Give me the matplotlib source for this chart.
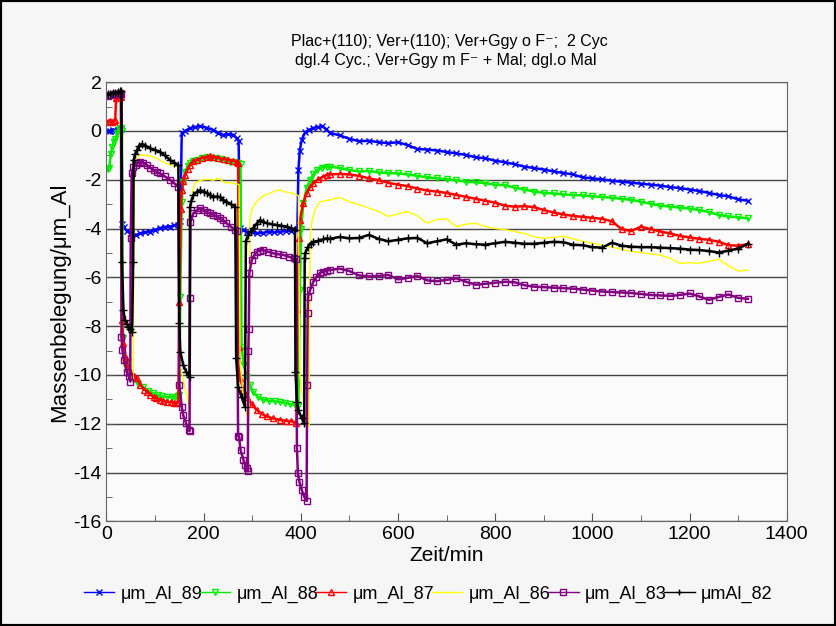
import numpy as np
import matplotlib.pyplot as plt
from matplotlib.patches import Rectangle
from matplotlib.ticker import MultipleLocator

# ---- data ----
# time grid for the slow drift after the last cycle (min)
t_tail = np.arange(460, 1321, 20)

# cycling part: (Zeit/min, Massenbelegung)
cyc_89 = [(3, 0.0), (8, -0.02), (13, 0.04), (18, 0.0), (23, 0.06), (28, 0.14), (31, 0.1),
          (33, -3.8), (36, -3.95), (42, -4.1), (50, -4.2), (60, -4.26), (70, -4.2), (80, -4.15),
          (90, -4.12), (100, -4.05), (110, -3.98), (120, -3.94), (130, -3.92), (140, -3.86),
          (148, -3.85), (152, -3.7), (155, -0.1), (162, 0.0), (172, 0.12), (182, 0.16),
          (193, 0.2), (205, 0.14), (220, 0.04), (230, -0.08), (240, -0.16), (250, -0.14),
          (261, -0.16), (268, -0.3), (272, -0.4), (275, -3.98), (282, -4.05), (290, -4.13),
          (300, -4.15), (310, -4.18), (322, -4.18), (335, -4.12), (345, -4.15), (357, -4.13),
          (370, -4.1), (380, -4.08), (390, -4.06), (393, -4.0), (395, -1.6), (398, -0.8),
          (402, -0.35), (409, -0.05), (417, 0.05), (425, 0.12), (435, 0.16), (443, 0.2),
          (452, 0.08)]
tail_89 = [-0.08, -0.18, -0.32, -0.42, -0.40, -0.46, -0.50, -0.46, -0.58, -0.74, -0.76,
           -0.80, -0.86, -0.92, -0.98, -1.08, -1.12, -1.22, -1.28, -1.36, -1.46, -1.52,
           -1.58, -1.66, -1.72, -1.78, -1.90, -1.94, -1.98, -2.04, -2.08, -2.12, -2.16,
           -2.20, -2.24, -2.30, -2.34, -2.40, -2.46, -2.54, -2.62, -2.68, -2.80, -2.86]

cyc_88 = [(3, -1.56), (6, -1.5), (9, -0.95), (12, -0.65), (15, -0.45), (18, -0.34), (22, -0.1),
          (26, 0.08), (30, 0.12), (32, 0.0), (34, -8.5), (38, -9.6), (44, -9.9), (50, -10.05),
          (55, -10.15), (65, -10.35), (76, -10.5), (86, -10.65), (96, -10.75), (106, -10.82),
          (115, -10.88), (124, -10.9), (135, -10.9), (142, -10.92), (147, -10.88), (150, -10.8),
          (152, -6.8), (155, -2.9), (158, -2.1), (162, -1.67), (167, -1.45), (172, -1.31),
          (179, -1.22), (186, -1.19), (196, -1.12), (206, -1.07), (215, -1.1), (225, -1.12),
          (234, -1.15), (244, -1.2), (254, -1.26), (263, -1.28), (271, -1.31), (276, -1.35),
          (278, -8.84), (283, -9.6), (289, -10.07), (295, -10.4), (302, -10.7), (312, -10.9),
          (323, -11.02), (335, -11.05), (346, -11.08), (357, -11.1), (368, -11.14),
          (378, -11.2), (388, -11.23), (395, -11.27), (398, -6.5), (401, -4.0), (405, -2.97),
          (412, -2.35), (419, -2.0), (426, -1.78), (433, -1.6), (443, -1.5), (453, -1.46)]
tail_88 = [-1.46, -1.52, -1.60, -1.66, -1.64, -1.70, -1.72, -1.74, -1.78, -1.84, -1.90,
           -1.94, -1.98, -2.02, -2.08, -2.10, -2.14, -2.20, -2.22, -2.32, -2.40, -2.48,
           -2.54, -2.56, -2.60, -2.62, -2.64, -2.68, -2.70, -2.74, -2.78, -2.82, -2.90,
           -2.98, -3.06, -3.10, -3.14, -3.18, -3.24, -3.32, -3.44, -3.50, -3.54, -3.58]

cyc_87 = [(3, 0.38), (7, 0.4), (11, 0.35), (15, 0.4), (18, 0.45), (20, 1.35), (24, 1.42),
          (28, 1.45), (30, 1.4), (32, -7.75), (35, -8.7), (40, -9.3), (44, -9.66), (50, -9.9),
          (56, -10.05), (62, -10.14), (70, -10.4), (78, -10.6), (83, -10.68), (90, -10.8),
          (97, -10.9), (103, -10.96), (110, -11.02), (117, -11.06), (124, -11.1),
          (132, -11.12), (139, -11.14), (145, -11.16), (148, -11.1), (150, -7.0), (153, -3.2),
          (155, -2.42), (158, -2.05), (162, -1.8), (167, -1.55), (172, -1.39), (179, -1.25),
          (186, -1.19), (196, -1.1), (206, -1.07), (213, -1.04), (220, -1.05), (230, -1.1),
          (241, -1.15), (251, -1.18), (261, -1.22), (268, -1.26), (271, -1.31), (273, -8.84),
          (275, -10.14), (282, -10.6), (289, -10.9), (299, -11.2), (309, -11.43), (320, -11.6),
          (330, -11.7), (343, -11.78), (357, -11.84), (370, -11.88), (380, -11.9),
          (391, -11.95), (393, -7.3), (396, -4.4), (398, -3.65), (405, -2.96), (412, -2.55),
          (419, -2.3), (426, -2.14), (436, -1.98), (446, -1.87), (453, -1.8)]
tail_87 = [-1.78, -1.76, -1.78, -1.84, -1.94, -2.02, -2.12, -2.20, -2.26, -2.36, -2.44,
           -2.48, -2.54, -2.62, -2.70, -2.78, -2.86, -2.94, -3.06, -3.10, -3.08, -3.12,
           -3.24, -3.34, -3.42, -3.48, -3.52, -3.56, -3.60, -3.70, -4.02, -4.10, -3.92,
           -4.02, -4.12, -4.20, -4.30, -4.36, -4.42, -4.46, -4.54, -4.68, -4.70, -4.64]

cyc_86 = [(3, 1.5), (10, 1.52), (20, 1.55), (29, 1.6), (30, -8.0), (34, -9.4), (40, -9.8),
          (48, -10.0), (55, -10.2), (57, -1.3), (60, -1.19), (65, -1.05), (69, -0.98),
          (80, -1.0), (90, -1.02), (100, -1.1), (110, -1.19), (120, -1.3), (131, -1.39),
          (140, -1.45), (148, -1.49), (150, -9.5), (155, -9.9), (160, -10.4), (166, -10.9),
          (171, -11.35), (173, -3.2), (175, -2.83), (178, -2.4), (182, -2.14), (190, -2.05),
          (199, -2.0), (210, -1.98), (220, -2.02), (228, -1.95), (234, -1.97), (240, -2.08),
          (247, -2.14), (255, -2.1), (262, -2.15), (268, -2.17), (273, -2.2), (275, -9.5),
          (280, -10.5), (285, -11.2), (290, -11.7), (293, -11.7), (295, -3.6), (299, -3.24),
          (306, -2.96), (316, -2.76), (326, -2.62), (337, -2.55), (347, -2.45), (357, -2.42),
          (368, -2.5), (378, -2.53), (386, -2.58), (391, -2.62), (395, -2.65), (398, -10.0),
          (403, -10.8), (408, -11.5), (412, -11.9), (415, -12.1), (417, -12.1), (419, -4.47),
          (422, -3.79), (429, -3.24), (439, -2.9), (450, -2.86)]
tail_86 = [-2.82, -2.72, -2.90, -3.02, -3.16, -3.30, -3.50, -3.40, -3.30, -3.48, -3.78,
           -3.62, -3.60, -3.92, -3.82, -3.78, -3.92, -4.00, -4.04, -4.12, -4.20, -4.34,
           -4.40, -4.36, -4.32, -4.42, -4.52, -4.60, -4.68, -4.76, -4.84, -4.94, -4.98,
           -5.04, -5.08, -5.22, -5.42, -5.40, -5.42, -5.34, -5.26, -5.52, -5.74, -5.70]

cyc_83 = [(3, 1.45), (8, 1.48), (13, 1.5), (18, 1.5), (23, 1.52), (28, 1.55), (30, 1.5),
          (31, -8.43), (33, -8.98), (36, -9.39), (42, -9.86), (46, -10.05), (49, -10.27),
          (50, -4.4), (52, -1.74), (55, -1.49), (60, -1.38), (65, -1.3), (69, -1.26),
          (76, -1.3), (83, -1.39), (90, -1.5), (97, -1.6), (104, -1.68), (110, -1.74),
          (120, -1.86), (131, -2.0), (140, -2.15), (148, -2.28), (150, -10.4), (155, -11.3),
          (158, -11.64), (164, -11.98), (169, -12.25), (171, -12.3), (172, -6.86),
          (173, -3.72), (179, -3.37), (186, -3.25), (193, -3.17), (200, -3.22), (206, -3.31),
          (213, -3.38), (220, -3.44), (227, -3.5), (234, -3.58), (240, -3.66), (247, -3.78),
          (256, -3.92), (265, -4.06), (268, -4.1), (271, -12.5), (273, -12.53), (276, -13.07),
          (282, -13.48), (286, -13.7), (289, -13.83), (291, -13.95), (292, -9.0), (293, -8.1),
          (294, -5.83), (299, -5.29), (304, -5.1), (309, -4.95), (316, -4.9), (323, -4.88),
          (333, -4.95), (343, -5.01), (353, -5.05), (364, -5.08), (375, -5.15), (385, -5.22),
          (391, -5.25), (392, -13.0), (394, -14.03), (397, -14.37), (402, -14.71),
          (407, -14.99), (412, -15.16), (413, -10.4), (414, -7.47), (415, -6.79),
          (419, -6.52), (426, -6.17), (432, -5.98), (439, -5.83), (446, -5.76), (453, -5.72)]
tail_83 = [-5.70, -5.64, -5.74, -5.92, -5.96, -5.94, -5.90, -6.08, -6.02, -5.94, -6.12,
           -6.16, -6.10, -6.04, -6.18, -6.30, -6.26, -6.22, -6.18, -6.20, -6.32, -6.38,
           -6.40, -6.42, -6.44, -6.46, -6.50, -6.54, -6.58, -6.60, -6.62, -6.64, -6.68,
           -6.72, -6.74, -6.76, -6.72, -6.66, -6.78, -6.92, -6.80, -6.70, -6.84, -6.88]

cyc_82 = [(3, 1.5), (8, 1.52), (13, 1.55), (18, 1.56), (23, 1.6), (28, 1.62), (31, 1.65),
          (32, -5.36), (35, -7.34), (38, -7.75), (42, -7.9), (45, -8.02), (49, -8.12),
          (53, -8.22), (55, -5.36), (56, -1.19), (59, -0.95), (63, -0.78), (67, -0.62),
          (73, -0.53), (80, -0.6), (90, -0.71), (100, -0.78), (110, -0.85), (120, -1.0),
          (131, -1.19), (140, -1.3), (148, -1.39), (150, -7.88), (152, -9.04), (158, -9.59),
          (164, -9.86), (171, -10.1), (172, -3.1), (175, -2.85), (179, -2.62), (186, -2.5),
          (193, -2.42), (200, -2.48), (206, -2.53), (213, -2.62), (220, -2.72), (227, -2.68),
          (234, -2.72), (240, -2.82), (247, -2.9), (256, -3.0), (265, -3.1), (267, -9.32),
          (271, -10.48), (278, -10.89), (285, -11.3), (287, -4.5), (292, -4.26), (297, -4.1),
          (302, -3.99), (309, -3.8), (316, -3.65), (323, -3.72), (330, -3.78), (340, -3.82),
          (350, -3.85), (360, -3.88), (371, -3.92), (380, -3.98), (388, -4.06), (389, -9.86),
          (392, -11.1), (395, -11.43), (402, -11.78), (407, -11.95), (408, -5.2), (409, -5.01),
          (415, -4.74), (420, -4.62), (426, -4.54), (436, -4.5), (446, -4.44), (453, -4.4)]
tail_82 = [-4.42, -4.34, -4.40, -4.38, -4.26, -4.42, -4.52, -4.46, -4.40, -4.38, -4.60,
           -4.52, -4.44, -4.66, -4.60, -4.64, -4.66, -4.60, -4.54, -4.58, -4.62, -4.62,
           -4.58, -4.54, -4.56, -4.66, -4.68, -4.76, -4.78, -4.58, -4.70, -4.74, -4.76,
           -4.76, -4.78, -4.80, -4.82, -4.86, -4.88, -4.92, -4.98, -4.90, -4.82, -4.62]

labels = ["\u03bcm_Al_89", "\u03bcm_Al_88", "\u03bcm_Al_87", "\u03bcm_Al_86",
          "\u03bcm_Al_83", "\u03bcmAl_82"]
series = [(cyc_89, tail_89), (cyc_88, tail_88), (cyc_87, tail_87),
          (cyc_86, tail_86), (cyc_83, tail_83), (cyc_82, tail_82)]

# ---- styling ----
colors = ["#0000ff", "#00ee00", "#ff0000", "#ffff00", "#800080", "#000000"]
markers = ["x", "v", "^", None, "s", "+"]
msizes = [4.5, 4.5, 4.5, 0, 4.5, 5.5]

plt.rcParams['font.family'] = ['Liberation Sans', 'DejaVu Sans']
plt.rcParams['axes.unicode_minus'] = False

fig = plt.figure(figsize=(8.36, 6.26), dpi=100, facecolor="#f6f6f6")
ax = fig.add_axes([0.1273, 0.1671, 0.8138, 0.7016], facecolor="#fbfbfb")

for (cyc, tail), lab, c, m, ms in zip(series, labels, colors, markers, msizes):
    t = [p[0] for p in cyc] + list(t_tail)
    v = [p[1] for p in cyc] + list(tail)
    if m is None:
        ax.plot(t, v, color=c, lw=1.0, label=lab)
    else:
        ax.plot(t, v, color=c, lw=1.8, marker=m, ms=ms, mew=1.0,
                mfc="none", label=lab)

ax.set_xlim(0, 1400)
ax.set_ylim(-16, 2)
ax.xaxis.set_major_locator(MultipleLocator(200))
ax.xaxis.set_minor_locator(MultipleLocator(100))
ax.yaxis.set_major_locator(MultipleLocator(2))
ax.yaxis.set_minor_locator(MultipleLocator(1))
ax.tick_params(which="both", direction="in", color="#555555", labelsize=14)
ax.tick_params(which="major", length=6)
ax.tick_params(which="minor", length=4)
ax.yaxis.grid(True, which="major", color="#444444", lw=1.0)
ax.set_axisbelow(True)
for s in ax.spines.values():
    s.set_color("#666666")

ax.set_xlabel("Zeit/min", fontsize=15, labelpad=2)
ax.set_ylabel("Massenbelegung/\u03bcm_Al", fontsize=16, labelpad=2)

fig.text(0.537, 0.933, "Plac+(110); Ver+(110); Ver+Ggy o F\u207b;  2 Cyc",
         ha="center", va="center", fontsize=11.5)
fig.text(0.533, 0.904, "dgl.4 Cyc.; Ver+Ggy m F\u207b + Mal; dgl.o Mal",
         ha="center", va="center", fontsize=11.5)

leg = ax.legend(loc="center", bbox_to_anchor=(0.512, 0.051), bbox_transform=fig.transFigure,
                ncol=6, frameon=False, fontsize=13, handlelength=1.7, handletextpad=0.35,
                columnspacing=-0.15, numpoints=1)
for h in leg.get_lines():
    h.set_linewidth(1.0)
    h.set_markersize(4)

fig.patches.append(Rectangle((0, 0), 1, 1, transform=fig.transFigure, fill=False,
                             edgecolor="black", lw=3))

plt.savefig("out.png", dpi=100, facecolor=fig.get_facecolor())
